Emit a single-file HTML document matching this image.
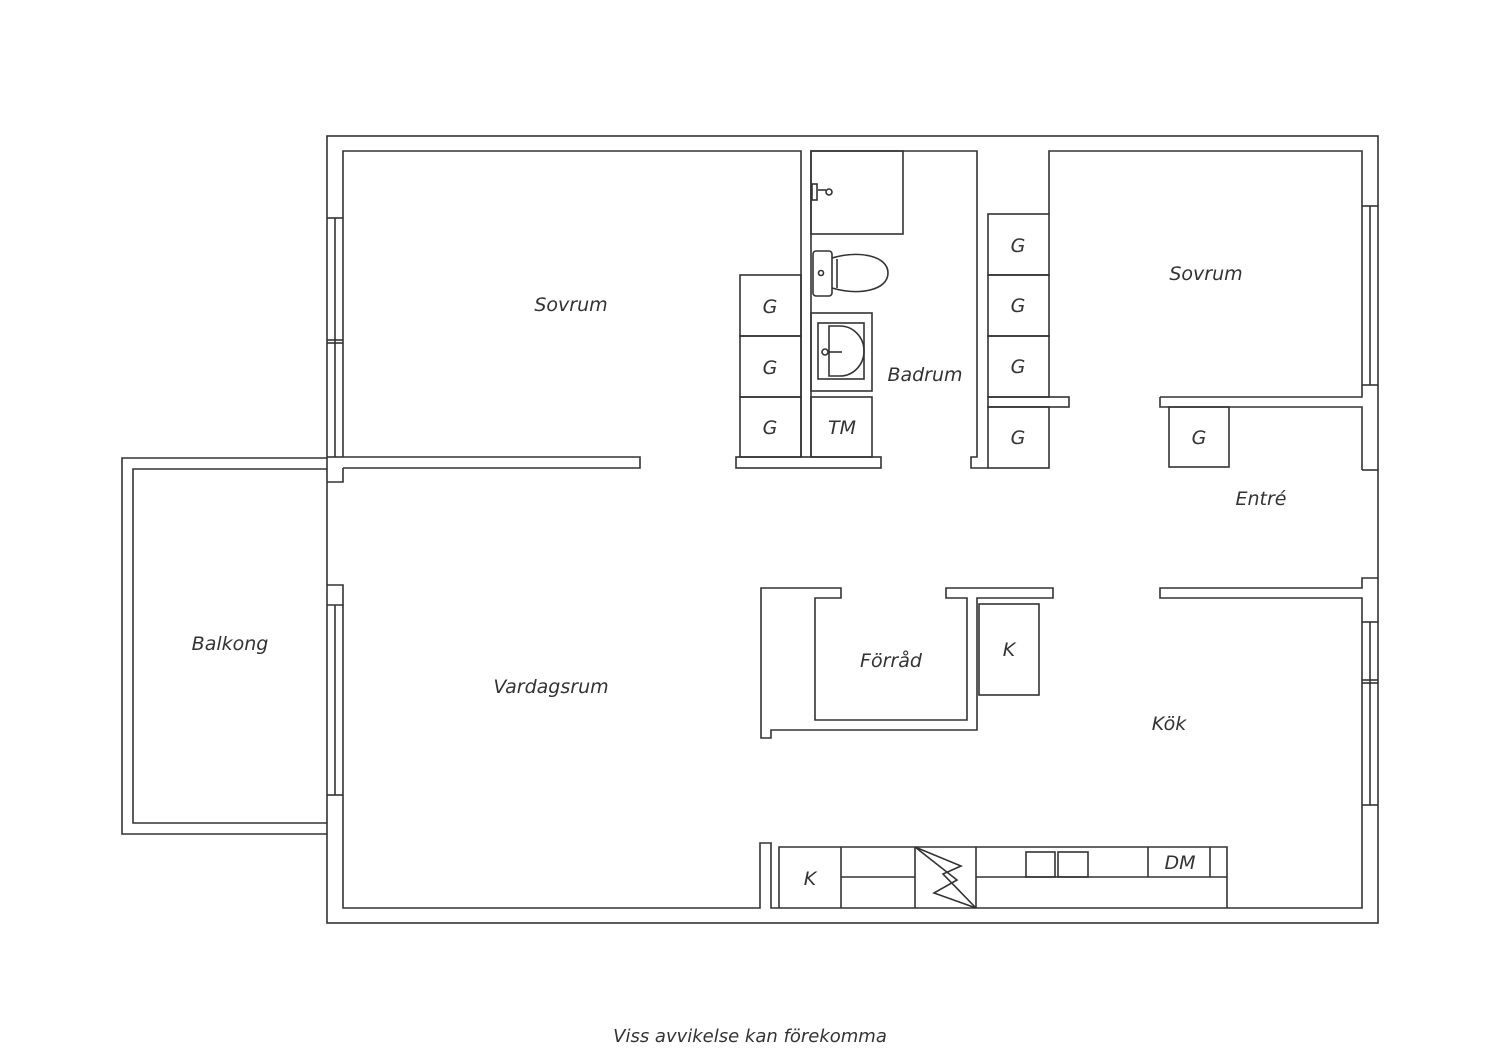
<!DOCTYPE html>
<html><head><meta charset="utf-8"><style>
html,body{margin:0;padding:0;background:#fff;}
svg{display:block}
text{font-family:"DejaVu Sans","Liberation Sans",sans-serif;font-style:italic;fill:#333;font-size:19px;text-anchor:middle}
</style></head><body>
<svg width="1500" height="1060" viewBox="0 0 1500 1060" xmlns="http://www.w3.org/2000/svg">
<g fill="none" stroke="#333" stroke-width="1.6">
<rect x="327" y="136" width="1051" height="787"/>
<polyline points="343,457 343,151 801,151 801,457"/>
<polyline points="343,468 640,468 640,457 343,457"/>
<polyline points="327,482 343,482 343,468"/>
<line x1="327" y1="218" x2="343" y2="218"/><line x1="327" y1="340" x2="343" y2="340"/><line x1="327" y1="343" x2="343" y2="343"/><line x1="327" y1="457" x2="343" y2="457"/>
<line x1="335" y1="218" x2="335" y2="457"/>
<polyline points="327,585 343,585 343,605 327,605"/>
<line x1="327" y1="795" x2="343" y2="795"/><line x1="335" y1="605" x2="335" y2="795"/>
<polyline points="343,605 343,908 760,908 760,843 771,843 771,908 1362,908 1362,598 1160,598 1160,588 1362,588 1362,578 1378,578"/>
<line x1="1362" y1="470" x2="1378" y2="470"/>
<polyline points="1160,397 1160,407 1362,407 1362,470"/>
<polyline points="1160,397 1362,397 1362,151 1049,151 1049,214"/>
<line x1="1370" y1="206" x2="1370" y2="385"/><line x1="1362" y1="206" x2="1378" y2="206"/><line x1="1362" y1="385" x2="1378" y2="385"/>
<line x1="1362" y1="622" x2="1378" y2="622"/><line x1="1362" y1="680" x2="1378" y2="680"/><line x1="1362" y1="683" x2="1378" y2="683"/><line x1="1362" y1="805" x2="1378" y2="805"/>
<line x1="1370" y1="622" x2="1370" y2="805"/>
<polyline points="327,458 122,458 122,834 327,834"/>
<polyline points="327,469 133,469 133,823 327,823"/>
<polyline points="811,457 811,151 977,151 977,457 971,457 971,468 988,468"/>
<rect x="811" y="151" width="92" height="83"/>
<rect x="736" y="457" width="145" height="11"/>
<rect x="740" y="275" width="61" height="61"/><rect x="740" y="336" width="61" height="61"/><rect x="740" y="397" width="61" height="60"/>
<rect x="811" y="397" width="61" height="60"/>
<rect x="811" y="313" width="61" height="78"/>
<rect x="818" y="323" width="46" height="56"/>
<path d="M829,326 L840,326 A24,25 0 0 1 840,376 L829,376 Z"/>
<circle cx="825" cy="352" r="3"/><line x1="828" y1="352" x2="842" y2="352"/>
<rect x="813" y="251" width="19" height="45" rx="3"/>
<circle cx="821" cy="273" r="2.5"/>
<path d="M832,258 C860,250 888,256 888,273 C888,290 860,296 832,288"/>
<line x1="837" y1="259" x2="837" y2="288"/>
<line x1="818" y1="190" x2="826" y2="190"/><circle cx="829" cy="192" r="3"/><rect x="812" y="184" width="5" height="16"/>
<rect x="988" y="214" width="61" height="61"/><rect x="988" y="275" width="61" height="61"/><rect x="988" y="336" width="61" height="61"/>
<rect x="988" y="397" width="81" height="10"/>
<rect x="988" y="407" width="61" height="61"/>
<rect x="1169" y="407" width="60" height="60"/>
<polygon points="761,588 841,588 841,598 815,598 815,720 967,720 967,598 946,598 946,588 1053,588 1053,598 977,598 977,730 771,730 771,738 761,738"/>
<rect x="979" y="604" width="60" height="91"/>
<polyline points="779,908 779,847 1227,847 1227,908"/>
<line x1="841" y1="847" x2="841" y2="908"/><line x1="915" y1="847" x2="915" y2="908"/><line x1="976" y1="847" x2="976" y2="908"/>
<line x1="841" y1="877" x2="915" y2="877"/><line x1="976" y1="877" x2="1227" y2="877"/>
<line x1="1148" y1="847" x2="1148" y2="877"/><line x1="1210" y1="847" x2="1210" y2="877"/>
<rect x="1026" y="852" width="29" height="25"/><rect x="1058" y="852" width="30" height="25"/>
<polyline points="915,847 957,880 934,893 976,908 943,874 961,866 915,847"/>
</g>
<text x="571" y="311">Sovrum</text>
<text x="1206" y="280">Sovrum</text>
<text x="925" y="381">Badrum</text>
<text x="770" y="313">G</text><text x="770" y="374">G</text><text x="770" y="434">G</text>
<text x="842" y="434">TM</text>
<text x="1018" y="252">G</text><text x="1018" y="312">G</text><text x="1018" y="373">G</text><text x="1018" y="444">G</text>
<text x="1199" y="444">G</text>
<text x="1261" y="505">Entré</text>
<text x="230" y="650">Balkong</text>
<text x="551" y="693">Vardagsrum</text>
<text x="891" y="667">Förråd</text>
<text x="1009" y="656">K</text>
<text x="1169" y="730">Kök</text>
<text x="810" y="885">K</text>
<text x="1180" y="869">DM</text>
<text x="750" y="1042" style="font-size:18px">Viss avvikelse kan förekomma</text>
</svg>
</body></html>
